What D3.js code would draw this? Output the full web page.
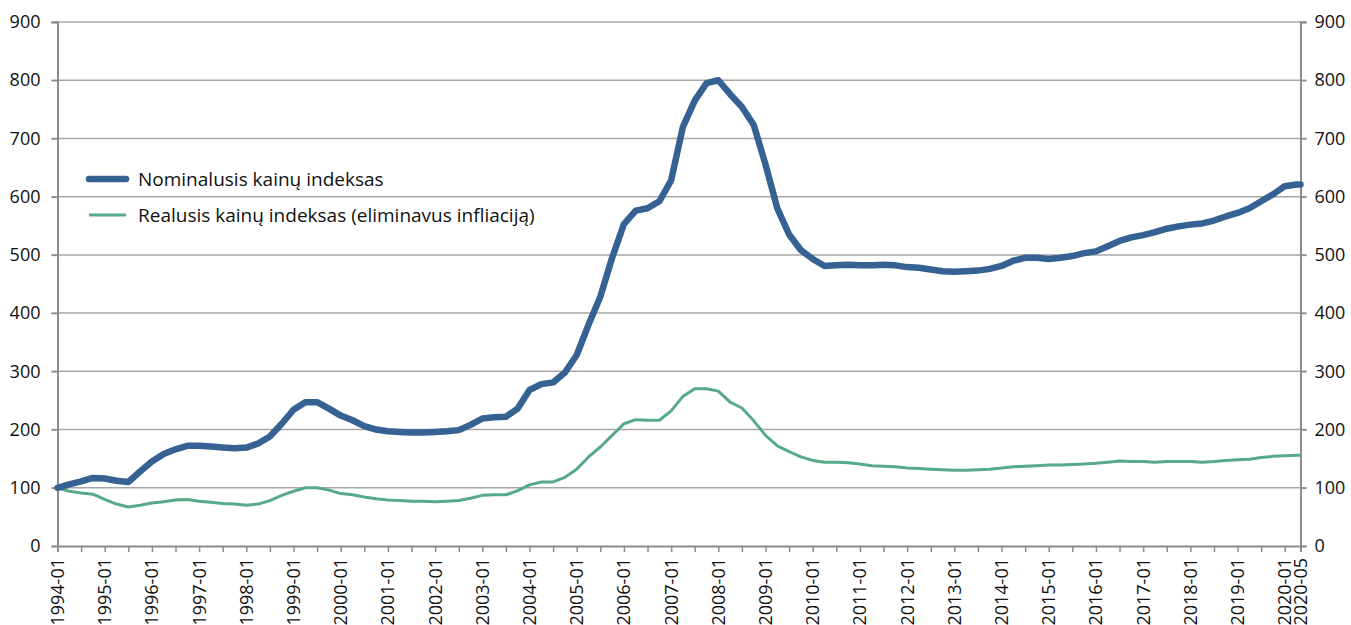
<!DOCTYPE html>
<html><head><meta charset="utf-8">
<script src="https://cdn.jsdelivr.net/npm/d3@7"></script>
<style>body{margin:0;background:#fff;} text{font-family:"Open Sans",sans-serif;fill:#111;}</style>
</head><body>
<svg id="c" width="1351" height="625"></svg>
<script>
// Quarterly observations (YYYY-MM), index 1994-01 = 100
const dates = [];
for (let y = 1994; y <= 2020; y++) for (const m of ["01","04","07","10"]) { if (y === 2020 && m > "04") break; dates.push(y + "-" + m); }
dates.push("2020-05");

const nominal = [
  100,106,111,117, 116,112,110,128, 145,158,166,172, 172,171,169,168,
  169,176,188,210, 234,247,247,236, 224,216,206,200, 197,196,195,195,
  196,197,199,208, 219,221,222,236, 268,278,281,298, 328,380,428,495,
  553,576,580,592, 628,720,765,795, 800,776,754,723, 655,580,535,508,
  493,481,482,483, 482,482,483,482, 479,478,475,472, 471,472,473,476,
  481,490,495,495, 493,495,498,503, 506,515,524,530, 534,539,545,549,
  552,554,559,566, 572,580,592,604, 618,621,621
];
const real = [
  100,94,91,89, 80,72,67,70, 74,76,79,80, 77,75,73,72,
  70,72,78,87, 94,100,100,96, 90,88,84,81, 79,78,77,77,
  76,77,78,82, 87,88,88,95, 105,110,110,118, 132,153,170,190,
  210,217,216,216, 232,257,270,270, 266,247,237,215, 190,172,162,153,
  147,144,144,143, 141,138,137,136, 134,133,132,131, 130,130,131,132,
  134,136,137,138, 139,139,140,141, 142,144,146,145, 145,144,145,145,
  145,144,145,147, 148,149,152,154, 155,156,156
];
const yTicks = [0,100,200,300,400,500,600,700,800,900];
const xLabels = [];
for (let y = 1994; y <= 2020; y++) xLabels.push(y + "-01");
xLabels.push("2020-05");
const seriesNames = ["Nominalusis kainų indeksas", "Realusis kainų indeksas (eliminavus infliaciją)"];
const colors = ["#356193", "#57aa87"];

const mIdx = s => { const [y, m] = s.split("-").map(Number); return (y - 1994) * 12 + (m - 1); };
const L = 57.5, R = 1300.5, T = 22, B = 546;
const x = d3.scaleLinear().domain([0, mIdx("2020-05")]).range([L, R]);
const y = d3.scaleLinear().domain([0, 900]).range([B, T]);
const svg = d3.select("#c");
const grey = "#8c8c8c";

// gridlines
svg.append("g").selectAll("line").data(yTicks.filter(v => v > 0)).join("line")
  .attr("x1", L - 6).attr("x2", R + 6).attr("y1", d => y(d)).attr("y2", d => y(d))
  .attr("stroke", "#a6a6a6").attr("stroke-width", 1.5);

// left axis
const la = svg.append("g").attr("transform", `translate(${L},0)`)
  .call(d3.axisLeft(y).tickValues(yTicks).tickSize(6).tickPadding(11));
// right axis
const ra = svg.append("g").attr("transform", `translate(${R},0)`)
  .call(d3.axisRight(y).tickValues(yTicks).tickSize(6).tickPadding(8));
// bottom axis
const tickMonths = d3.range(0, mIdx("2020-05") + 1, 6).concat([mIdx("2020-05")]);
const ba = svg.append("g").attr("transform", `translate(0,${B})`)
  .call(d3.axisBottom(x).tickValues(tickMonths).tickSize(6).tickFormat(""));
[la, ra, ba].forEach(g => {
  g.select(".domain").attr("stroke", grey).attr("stroke-width", 2);
  g.selectAll(".tick line").attr("stroke", grey).attr("stroke-width", 1.5);
  g.selectAll("text").style("font-size", "18px").attr("fill", "#111");
});
svg.append("g").selectAll("text").data(xLabels).join("text")
  .attr("transform", d => `translate(${x(mIdx(d)) + 6.5},${B + 12}) rotate(-90)`)
  .attr("text-anchor", "end").style("font-size", "18px").text(d => d);

// lines
const line = d3.line().x((d, i) => x(mIdx(dates[i]))).y(d => y(d)).curve(d3.curveLinear);
svg.append("path").datum(real).attr("d", line).attr("fill", "none")
  .attr("stroke", colors[1]).attr("stroke-width", 3).attr("stroke-linejoin", "round");
svg.append("path").datum(nominal).attr("d", line).attr("fill", "none")
  .attr("stroke", colors[0]).attr("stroke-width", 6.5).attr("stroke-linejoin", "round").attr("stroke-linecap", "round");

// legend
const lg = svg.append("g");
[[179, 6.5], [215, 3]].forEach(([ly, w], i) => {
  lg.append("line").attr("x1", 89).attr("x2", 126).attr("y1", ly).attr("y2", ly)
    .attr("stroke", colors[i]).attr("stroke-width", w).attr("stroke-linecap", i === 0 ? "round" : "butt");
  lg.append("text").attr("x", 138).attr("y", ly + 7).style("font-size", "19px").text(seriesNames[i]);
});
</script>
</body></html>
